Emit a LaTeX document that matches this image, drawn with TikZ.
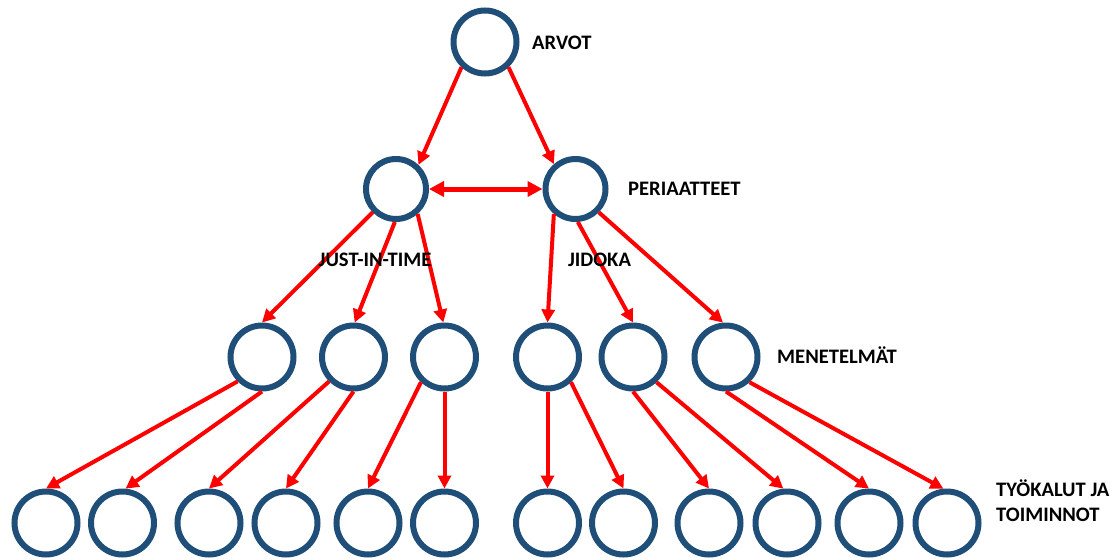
\documentclass[tikz,border=0pt]{standalone}
\usepackage{fontspec}
\setmainfont{Carlito}
\usetikzlibrary{arrows.meta}
\definecolor{ringblue}{HTML}{1F4E79}
\definecolor{linkred}{HTML}{FF0000}
\tikzset{
  ring/.style={circle, draw=ringblue, line width=6pt, fill=white, inner sep=0pt, minimum size=63pt},
  smallring/.style={ring, minimum size=60pt},
  link/.style={draw=linkred, line width=4pt, -{Triangle[length=13pt,width=13pt]}},
  biglink/.style={draw=linkred, line width=5pt, {Triangle[length=15pt,width=15pt]}-{Triangle[length=15pt,width=15pt]}},
  lbl/.style={inner sep=0pt, anchor=base west, font=\fontsize{20.6}{25}\selectfont\bfseries, align=left}
}
\begin{document}
\begin{tikzpicture}[x=1pt, y=-1pt]
\useasboundingbox (0,0) rectangle (1120,560);

% values
\node[ring] (top) at (485,42) {};
% principles
\node[smallring] (pa) at (396,189) {};
\node[smallring] (pb) at (575.5,189) {};
% methods
\foreach \n/\x in {ma/262, mb/353.5, mc/444.5, md/547.5, me/633, mf/726}
  \node[ring] (\n) at (\x,357) {};
% tools and activities
\foreach \n/\x in {t1/46, t2/122.5, t3/209, t4/286, t5/368, t6/444.5,
                   t7/547.5, t8/623.5, t9/709, t10/787, t11/869, t12/947}
  \node[ring] (\n) at (\x,523) {};

% values -> principles
\draw[link] (top.227) -- (pa.47);
\draw[link] (top.313) -- (pb.131);
\draw[biglink] (pa.east) -- (pb.west);

% principles -> methods
\draw[link] (pa.225) -- (ma.north);
\draw[link] (pa.268) -- (mb.88);
\draw[link] (pa.311) -- (mc.92);
\draw[link] (pb.229) -- (md.north);
\draw[link] (pb.274) -- (me.north);
\draw[link] (pb.315) -- (mf.95);

% methods -> tools
\draw[link] (ma.225) -- (t1.north);
\draw[link] (ma.south) -- (t2.85);
\draw[link] (mb.225) -- (t3.north);
\draw[link] (mb.south) -- (t4.north);
\draw[link] (mc.227) -- (t5.north);
\draw[link] (mc.south) -- (t6.north);
\draw[link] (md.south) -- (t7.north);
\draw[link] (md.313) -- (t8.north);
\draw[link] (me.south) -- (t9.north);
\draw[link] (me.313) -- (t10.96);
\draw[link] (mf.south) -- (t11.north);
\draw[link] (mf.313) -- (t12.96);

% level labels
\node[lbl] (arvot) at (532,49) {ARVOT};
\node[lbl] (periaatteet) at (628,195) {PERIAATTEET};
\node[lbl, anchor=base] (jit) at (375,266.5) {JUST-IN-TIME};
\node[lbl, anchor=base] (jidoka) at (599.5,266.5) {JIDOKA};
\node[lbl] (menetelmat) at (777,363.5) {MENETELMÄT};
\node[lbl] (tyokalut) at (996,521) {TYÖKALUT JA\\TOIMINNOT};
\end{tikzpicture}
\end{document}
